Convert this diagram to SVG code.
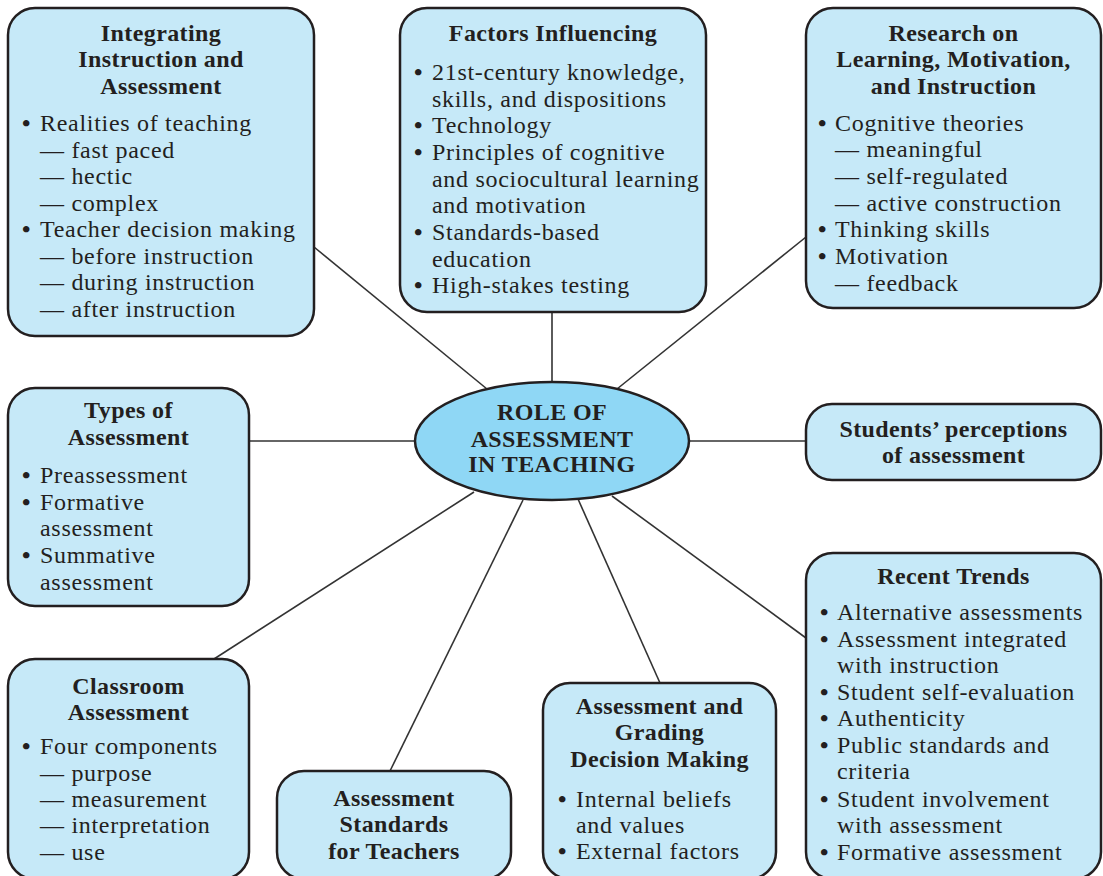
<svg xmlns="http://www.w3.org/2000/svg" width="1103" height="876" viewBox="0 0 1103 876">
<style>
.box{fill:#c6e9f8;stroke:#231f20;stroke-width:2.5}
.ell{fill:#8fd7f5;stroke:#231f20;stroke-width:2.5}
.ln{stroke:#333;stroke-width:1.6;fill:none}
.t{font-family:"Liberation Serif",serif;font-size:24px;letter-spacing:0.7px;fill:#231f20}
.b{font-weight:bold}
.h{font-family:"Liberation Serif",serif;font-size:24px;letter-spacing:0.4px;font-weight:bold;fill:#231f20;text-anchor:middle}
</style>
<rect width="1103" height="876" fill="#ffffff"/>
<g id="connectors">
<line class="ln" x1="314" y1="247" x2="487" y2="389"/>
<line class="ln" x1="552" y1="312" x2="552" y2="383"/>
<line class="ln" x1="806" y1="237" x2="617" y2="389"/>
<line class="ln" x1="249" y1="441" x2="416" y2="441"/>
<line class="ln" x1="688" y1="441" x2="806" y2="441"/>
<line class="ln" x1="214" y1="659" x2="474" y2="492"/>
<line class="ln" x1="390" y1="771" x2="523" y2="500"/>
<line class="ln" x1="660" y1="683" x2="578" y2="499"/>
<line class="ln" x1="806" y1="638" x2="612" y2="496"/>
</g>
<g id="center">
<ellipse class="ell" cx="552" cy="441" rx="137" ry="59"/>
<text class="h" x="552" y="420">ROLE OF</text>
<text class="h" x="552" y="447">ASSESSMENT</text>
<text class="h" x="552" y="472">IN TEACHING</text>
</g>
<g id="integrating">
<rect class="box" x="8" y="8" width="306" height="328" rx="27"/>
<text class="h" x="161" y="41">Integrating</text>
<text class="h" x="161" y="67">Instruction and</text>
<text class="h" x="161" y="94">Assessment</text>
<text class="t"><tspan class="b" x="22" y="131">•</tspan><tspan x="40" y="131">Realities of teaching</tspan><tspan x="40" y="158">— fast paced</tspan><tspan x="40" y="184">— hectic</tspan><tspan x="40" y="211">— complex</tspan><tspan class="b" x="22" y="237">•</tspan><tspan x="40" y="237">Teacher decision making</tspan><tspan x="40" y="264">— before instruction</tspan><tspan x="40" y="290">— during instruction</tspan><tspan x="40" y="317">— after instruction</tspan></text>
</g>
<g id="factors">
<rect class="box" x="400" y="8" width="306" height="304" rx="27"/>
<text class="h" x="553" y="41">Factors Influencing</text>
<text class="t"><tspan class="b" x="414" y="80">•</tspan><tspan x="432" y="80">21st-century knowledge,</tspan><tspan x="432" y="107">skills, and dispositions</tspan><tspan class="b" x="414" y="133">•</tspan><tspan x="432" y="133">Technology</tspan><tspan class="b" x="414" y="160">•</tspan><tspan x="432" y="160">Principles of cognitive</tspan><tspan x="432" y="187">and sociocultural learning</tspan><tspan x="432" y="213">and motivation</tspan><tspan class="b" x="414" y="240">•</tspan><tspan x="432" y="240">Standards-based</tspan><tspan x="432" y="267">education</tspan><tspan class="b" x="414" y="293">•</tspan><tspan x="432" y="293">High-stakes testing</tspan></text>
</g>
<g id="research">
<rect class="box" x="806" y="8" width="295" height="300" rx="27"/>
<text class="h" x="953.5" y="41">Research on</text>
<text class="h" x="953.5" y="67">Learning, Motivation,</text>
<text class="h" x="953.5" y="94">and Instruction</text>
<text class="t"><tspan class="b" x="818" y="131">•</tspan><tspan x="835" y="131">Cognitive theories</tspan><tspan x="835" y="157">— meaningful</tspan><tspan x="835" y="184">— self-regulated</tspan><tspan x="835" y="211">— active construction</tspan><tspan class="b" x="818" y="237">•</tspan><tspan x="835" y="237">Thinking skills</tspan><tspan class="b" x="818" y="264">•</tspan><tspan x="835" y="264">Motivation</tspan><tspan x="835" y="291">— feedback</tspan></text>
</g>
<g id="types">
<rect class="box" x="8" y="388" width="241" height="218" rx="27"/>
<text class="h" x="128.5" y="418">Types of</text>
<text class="h" x="128.5" y="445">Assessment</text>
<text class="t"><tspan class="b" x="22" y="483">•</tspan><tspan x="40" y="483">Preassessment</tspan><tspan class="b" x="22" y="510">•</tspan><tspan x="40" y="510">Formative</tspan><tspan x="40" y="536">assessment</tspan><tspan class="b" x="22" y="563">•</tspan><tspan x="40" y="563">Summative</tspan><tspan x="40" y="590">assessment</tspan></text>
</g>
<g id="students">
<rect class="box" x="806" y="404" width="295" height="76" rx="26"/>
<text class="h" x="953.5" y="437">Students’ perceptions</text>
<text class="h" x="953.5" y="463">of assessment</text>
</g>
<g id="classroom">
<rect class="box" x="8" y="659" width="241" height="220" rx="27"/>
<text class="h" x="128.5" y="694">Classroom</text>
<text class="h" x="128.5" y="720">Assessment</text>
<text class="t"><tspan class="b" x="22" y="754">•</tspan><tspan x="40" y="754">Four components</tspan><tspan x="40" y="781">— purpose</tspan><tspan x="40" y="807">— measurement</tspan><tspan x="40" y="833">— interpretation</tspan><tspan x="40" y="860">— use</tspan></text>
</g>
<g id="standards">
<rect class="box" x="277" y="771" width="234" height="108" rx="27"/>
<text class="h" x="394" y="806">Assessment</text>
<text class="h" x="394" y="832">Standards</text>
<text class="h" x="394" y="859">for Teachers</text>
</g>
<g id="grading">
<rect class="box" x="543" y="683" width="233" height="196" rx="27"/>
<text class="h" x="659.5" y="714">Assessment and</text>
<text class="h" x="659.5" y="740">Grading</text>
<text class="h" x="659.5" y="767">Decision Making</text>
<text class="t"><tspan class="b" x="558" y="807">•</tspan><tspan x="576" y="807">Internal beliefs</tspan><tspan x="576" y="833">and values</tspan><tspan class="b" x="558" y="859">•</tspan><tspan x="576" y="859">External factors</tspan></text>
</g>
<g id="trends">
<rect class="box" x="806" y="553" width="295" height="326" rx="27"/>
<text class="h" x="953.5" y="584">Recent Trends</text>
<text class="t"><tspan class="b" x="820" y="620">•</tspan><tspan x="837" y="620">Alternative assessments</tspan><tspan class="b" x="820" y="647">•</tspan><tspan x="837" y="647">Assessment integrated</tspan><tspan x="837" y="673">with instruction</tspan><tspan class="b" x="820" y="700">•</tspan><tspan x="837" y="700">Student self-evaluation</tspan><tspan class="b" x="820" y="726">•</tspan><tspan x="837" y="726">Authenticity</tspan><tspan class="b" x="820" y="753">•</tspan><tspan x="837" y="753">Public standards and</tspan><tspan x="837" y="779">criteria</tspan><tspan class="b" x="820" y="807">•</tspan><tspan x="837" y="807">Student involvement</tspan><tspan x="837" y="833">with assessment</tspan><tspan class="b" x="820" y="860">•</tspan><tspan x="837" y="860">Formative assessment</tspan></text>
</g>
</svg>
